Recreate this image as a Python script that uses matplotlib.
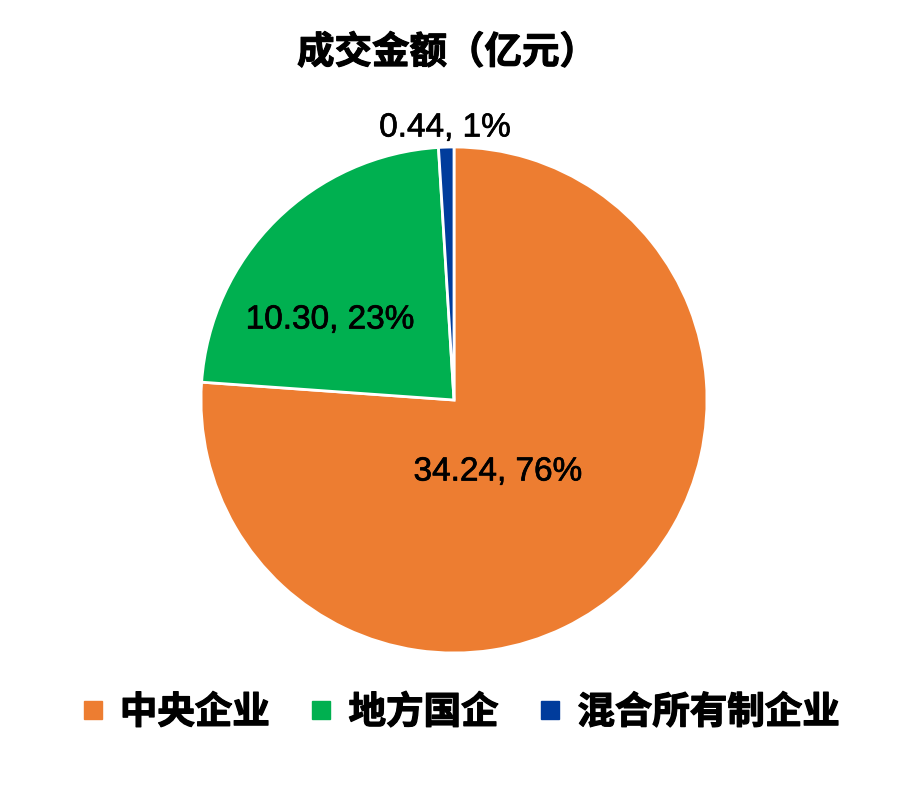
import matplotlib
matplotlib.use("Agg")
import matplotlib.pyplot as plt
import matplotlib.patheffects as pe
from matplotlib.lines import Line2D

categories = ["中央企业", "地方国企", "混合所有制企业"]
values = [34.24, 10.30, 0.44]
colors = ["#ED7D31", "#00B050", "#003C9C"]
title = "成交金额（亿元）"

plt.rcParams['font.family'] = ['Liberation Sans', 'DejaVu Sans']
cjk = ['Noto Sans CJK SC', 'DejaVu Sans']

fig = plt.figure(figsize=(9.08, 7.90), dpi=100)
ax = fig.add_axes([0, 0, 1, 1])

wedges, _ = ax.pie(values, colors=colors, startangle=90, counterclock=False,
                   center=(454, 390), radius=253,
                   wedgeprops=dict(edgecolor='white', linewidth=2))
ax.set_xlim(0, 908)
ax.set_ylim(0, 790)
ax.set_aspect('equal')
ax.axis('off')

total = sum(values)
label_pos = [(498, 318), (330, 470), (445, 662)]
for v, (x, y) in zip(values, label_pos):
    ax.text(x, y, f"{v:.2f}, {v/total*100:.0f}%", ha='center', va='center',
            fontsize=24, color='black',
            path_effects=[pe.withStroke(linewidth=0.5, foreground='black')])

fig.text(447 / 908, 1 - 52 / 790, title, ha='center', va='center',
         fontsize=27, fontweight='bold', family=cjk,
         path_effects=[pe.withStroke(linewidth=0.8, foreground='black')])

handles = [Line2D([0], [0], marker='s', linestyle='none', markersize=12.5,
                  markerfacecolor=c, markeredgecolor=c) for c in colors]
leg = fig.legend(handles, categories, loc='center', ncol=3,
                 bbox_to_anchor=(462 / 908, 1 - 712 / 790),
                 frameon=False, handlelength=0.45, handletextpad=0.5,
                 columnspacing=1.15, borderpad=0, borderaxespad=0,
                 prop=dict(family=cjk, weight='bold', size=27))
for t in leg.get_texts():
    t.set_path_effects([pe.withStroke(linewidth=0.9, foreground='black')])

fig.savefig("out.png", dpi=100)
